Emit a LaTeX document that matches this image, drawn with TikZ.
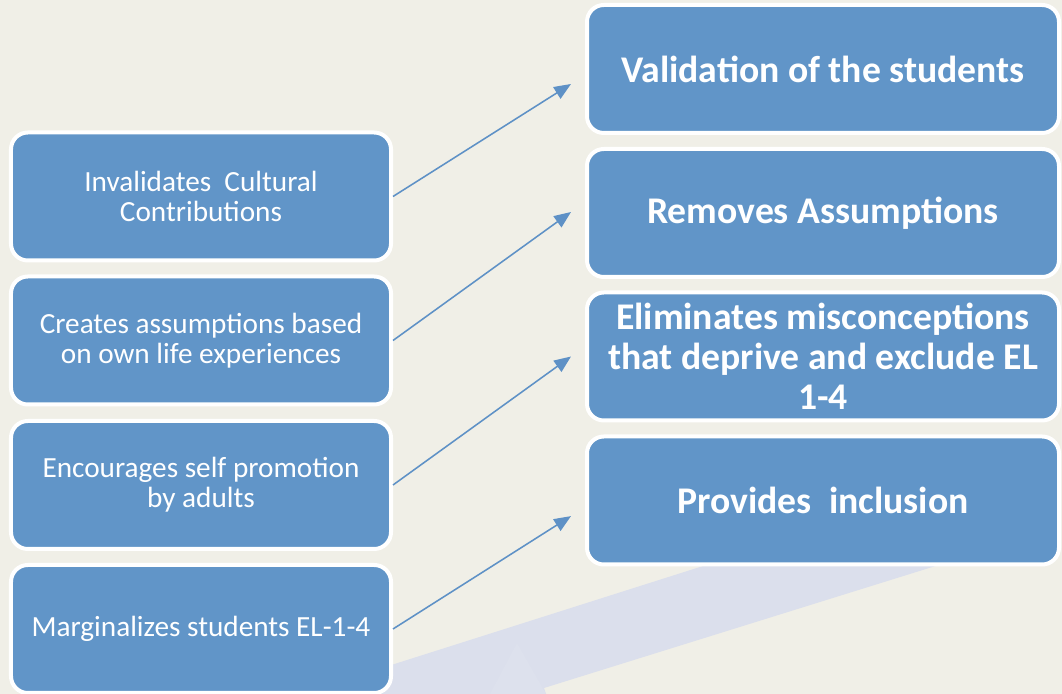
\documentclass[tikz,border=0pt]{standalone}
\usepackage{fontspec}
\setmainfont{Carlito}
\usepackage{tikz}
\usetikzlibrary{
  arrows.meta,
  positioning
}
\definecolor{paper}{RGB}{240, 239, 231}
\definecolor{boxblue}{RGB}{97, 149, 200}
\definecolor{lineblue}{RGB}{94, 145, 198}
\definecolor{lavender}{RGB}{219, 223, 236}
\definecolor{lavenderlight}{RGB}{221, 225, 237}

\begin{document}
\begin{tikzpicture}[
  leftbox/.style={rectangle, draw=white, fill=boxblue, rounded corners=0.42cm, line width=0.1cm, minimum width=9.5cm, minimum height=3.2cm, align=center, text=white, font=\fontsize{20.8}{21.3}\selectfont},
  rightbox/.style={leftbox, minimum width=11.8cm, font=\fontsize{26.8}{28.5}\selectfont\bfseries},
  link/.style={-{Triangle[length=0.42cm, width=0.34cm]}, line width=1.1pt, color=lineblue}
]

% Canvas
\fill[paper] (0,0) rectangle (26.55,17.35);
\useasboundingbox (0,0) rectangle (26.55,17.35);

% Big pale arrow in the back
\fill[lavender] (7.5,0) -- (19.625,3.85) -- (25.475,3.85) -- (13.6,0.15) -- (13.65,0) -- cycle;
\fill[lavenderlight] (12.25,0) -- (12.925,1.275) -- (13.65,0) -- cycle;

% Left column nodes
\node[leftbox] (invalid) at (5.025,12.4375) {Invalidates~ Cultural\\Contributions};
\node[leftbox] (assume) at (5.025,8.8375) {Creates assumptions based\\on own life experiences};
\node[leftbox] (promote) at (5.025,5.225) {Encourages self promotion\\by adults};
\node[leftbox] (margin) at (5.025,1.625) {Marginalizes students EL-1-4};

% Right column nodes
\node[rightbox] (valid) at (20.575,15.625) {Validation of the students};
\node[rightbox] (remove) at (20.575,12.025) {Removes Assumptions};
\node[rightbox] (elim) at (20.575,8.4375) {Eliminates misconceptions\\that deprive and exclude EL\\1-4};
\node[rightbox] (include) at (20.575,4.8375) {Provides~ inclusion};

% Arrows across
\draw[link] (invalid.east) -- ([xshift=-0.35cm, yshift=-0.375cm]valid.west);
\draw[link] (assume.east) -- ([xshift=-0.35cm, yshift=0.025cm]remove.west);
\draw[link] (promote.east) -- ([xshift=-0.35cm]elim.west);
\draw[link] (margin.east) -- ([xshift=-0.35cm, yshift=-0.39cm]include.west);

\end{tikzpicture}
\end{document}
